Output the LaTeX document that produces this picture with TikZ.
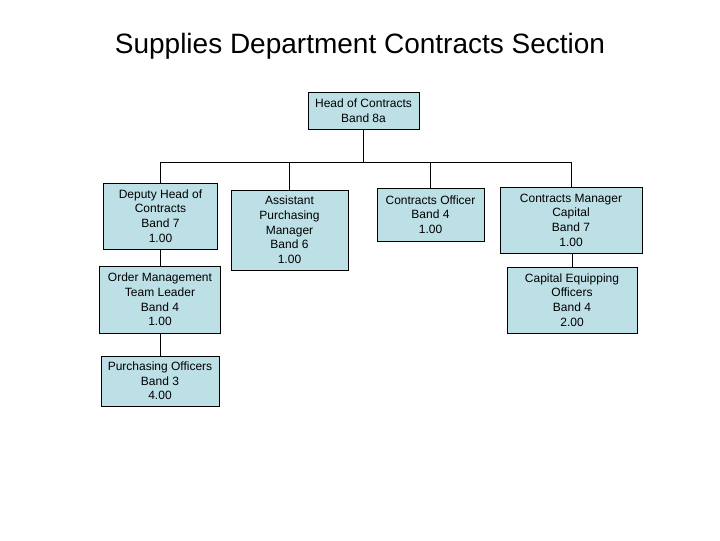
\documentclass[tikz,border=0pt]{standalone}
\usepackage{fontspec}
\setmainfont{Liberation Sans}
\definecolor{boxfill}{RGB}{189,224,230}
\begin{document}
\begin{tikzpicture}[x=0.75pt,y=-0.75pt,
  orgbox/.style={draw=black,fill=boxfill,line width=0.75pt,inner sep=0pt,align=center,
    font=\fontsize{9}{11}\selectfont},
  link/.style={draw=black,line width=0.75pt}]
\useasboundingbox (0,0) rectangle (720,540);
\node[font=\fontsize{21}{24}\selectfont] (title) at (360,46) {Supplies Department Contracts Section};
\node[orgbox,minimum width=111*0.75pt,minimum height=37*0.75pt] (head) at (363.5,110.5) {Head of Contracts\\Band 8a};
\node[orgbox,minimum width=114*0.75pt,minimum height=66*0.75pt] (deputy) at (160.5,216) {Deputy Head of\\Contracts\\Band 7\\1.00};
\node[orgbox,minimum width=117*0.75pt,minimum height=80*0.75pt] (assistant) at (289.5,230) {Assistant\\Purchasing\\Manager\\Band 6\\1.00};
\node[orgbox,minimum width=107*0.75pt,minimum height=53*0.75pt] (co) at (430.5,214.5) {Contracts Officer\\Band 4\\1.00};
\node[orgbox,minimum width=142*0.75pt,minimum height=66*0.75pt] (cm) at (571,220) {Contracts Manager\\Capital\\Band 7\\1.00};
\node[orgbox,minimum width=121*0.75pt,minimum height=67*0.75pt] (om) at (160,299.5) {Order Management\\Team Leader\\Band 4\\1.00};
\node[orgbox,minimum width=118*0.75pt,minimum height=50*0.75pt] (po) at (160,381) {Purchasing Officers\\Band 3\\4.00};
\node[orgbox,minimum width=130*0.75pt,minimum height=66*0.75pt] (ce) at (572,300) {Capital Equipping\\Officers\\Band 4\\2.00};
\coordinate (bus) at (0,162);
\draw[link] (head.south) -- (head.south |- bus);
\draw[link] (deputy.north) |- (cm.north |- bus) -- (cm.north);
\draw[link] (assistant.north) -- (assistant.north |- bus);
\draw[link] (co.north) -- (co.north |- bus);
\draw[link] (om.north) -- (om.north |- deputy.south);
\draw[link] (po.north) -- (po.north |- om.south);
\draw[link] (ce.north) -- (ce.north |- cm.south);
\end{tikzpicture}
\end{document}
